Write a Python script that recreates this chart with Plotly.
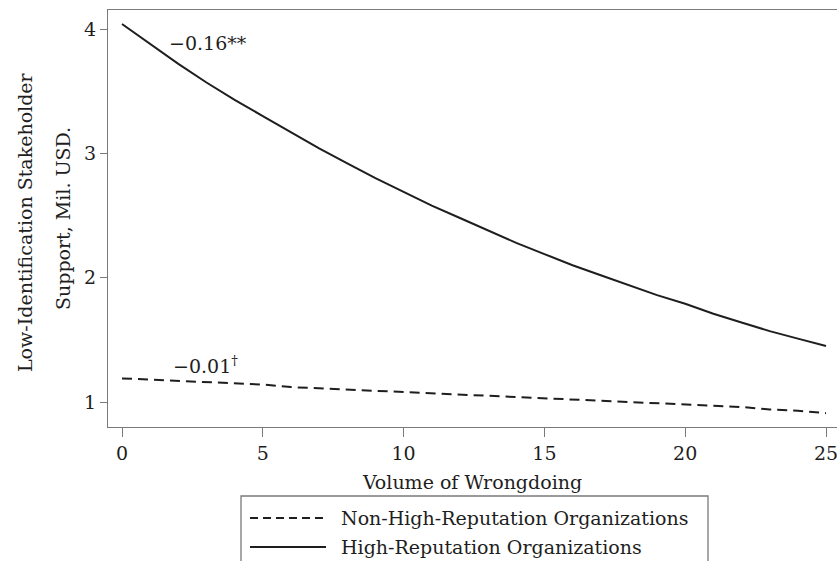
import plotly.graph_objects as go

# Data
volume = list(range(0, 26))
high_rep = [4.04, 3.88, 3.72, 3.57, 3.43, 3.30, 3.17, 3.04, 2.92, 2.80, 2.69,
            2.58, 2.48, 2.38, 2.28, 2.19, 2.10, 2.02, 1.94, 1.86, 1.79, 1.71,
            1.64, 1.57, 1.51, 1.45]
non_high_rep = [1.19, 1.18, 1.17, 1.16, 1.15, 1.14, 1.12, 1.11, 1.10, 1.09, 1.08,
                1.07, 1.06, 1.05, 1.04, 1.03, 1.02, 1.01, 1.00, 0.99, 0.98, 0.97,
                0.96, 0.94, 0.93, 0.91]
x_ticks = [0, 5, 10, 15, 20, 25]
y_ticks = [1, 2, 3, 4]
series_names = ["Non-High-Reputation Organizations", "High-Reputation Organizations"]
coef_labels = ["\u22120.01<sup>\u2020</sup>", "\u22120.16**"]

FONT = "DejaVu Serif"
INK = "#1e1e1e"
AXIS = "#7a7a7a"
FS = 19

fig = go.Figure()
fig.add_trace(go.Scatter(x=volume, y=non_high_rep, mode="lines", name=series_names[0],
                         line=dict(color=INK, width=2, dash="10px,6px"), showlegend=False))
fig.add_trace(go.Scatter(x=volume, y=high_rep, mode="lines", name=series_names[1],
                         line=dict(color=INK, width=2), showlegend=False))

# coefficient labels
fig.add_annotation(x=1.6, y=3.89, text=coef_labels[1], showarrow=False, xanchor="left",
                   font=dict(family=FONT, size=FS, color=INK))
fig.add_annotation(x=1.75, y=1.30, text=coef_labels[0], showarrow=False, xanchor="left",
                   font=dict(family=FONT, size=FS, color=INK))

# page-pixel -> paper helpers (plot area spans x 108..837, y 10..427)
pw, ph = 729.0, 417.0
def px(xp):
    return (xp - 108) / pw
def py(yp):
    return (427 - yp) / ph

# y-axis title (two lines)
fig.add_annotation(xref="paper", yref="paper", x=px(25), y=py(222), text="Low-Identification Stakeholder",
                   textangle=-90, showarrow=False, xanchor="center", yanchor="middle",
                   font=dict(family=FONT, size=FS, color=INK))
fig.add_annotation(xref="paper", yref="paper", x=px(63), y=py(219), text="Support, Mil. USD.",
                   textangle=-90, showarrow=False, xanchor="center", yanchor="middle",
                   font=dict(family=FONT, size=FS, color=INK))

# custom legend (box, line samples, labels)
fig.add_shape(type="rect", xref="paper", yref="paper", x0=px(241), x1=px(708), y0=py(600), y1=py(496),
              line=dict(color=AXIS, width=1.3), fillcolor="white")
fig.add_shape(type="line", xref="paper", yref="paper", x0=px(250), x1=px(326), y0=py(518), y1=py(518),
              line=dict(color=INK, width=2, dash="8px,5px"))
fig.add_shape(type="line", xref="paper", yref="paper", x0=px(250), x1=px(326), y0=py(547), y1=py(547),
              line=dict(color=INK, width=2))
fig.add_annotation(xref="paper", yref="paper", x=px(339), y=py(518), text=series_names[0], xanchor="left",
                   yanchor="middle", showarrow=False, font=dict(family=FONT, size=FS, color=INK))
fig.add_annotation(xref="paper", yref="paper", x=px(339), y=py(547), text=series_names[1], xanchor="left",
                   yanchor="middle", showarrow=False, font=dict(family=FONT, size=FS, color=INK))

fig.update_layout(
    width=837, height=561,
    margin=dict(l=108, r=0, t=10, b=134),
    paper_bgcolor="white", plot_bgcolor="white",
    font=dict(family=FONT, size=FS, color=INK),
    xaxis=dict(range=[-0.497, 25.39], tickvals=x_ticks, ticks="outside", ticklen=9,
               tickcolor=AXIS, showline=True, linecolor=AXIS, linewidth=1.3, mirror=True,
               showgrid=False, zeroline=False, ticklabeloverflow="allow",
               title=dict(text="Volume of Wrongdoing", standoff=12,
                          font=dict(family=FONT, size=FS, color=INK)),
               tickfont=dict(family=FONT, size=FS, color=INK)),
    yaxis=dict(range=[0.799, 4.153], tickvals=y_ticks, ticks="outside", ticklen=7,
               tickcolor=AXIS, showline=True, linecolor=AXIS, linewidth=1.3, mirror=True,
               showgrid=False, zeroline=False,
               tickfont=dict(family=FONT, size=FS, color=INK)),
    showlegend=False,
)

# remove the browser's default page margin so the figure fills the window exactly
fig.write_html("out.html", config={"displayModeBar": False},
               post_script="document.body.style.margin='0';document.body.style.overflow='hidden';")
